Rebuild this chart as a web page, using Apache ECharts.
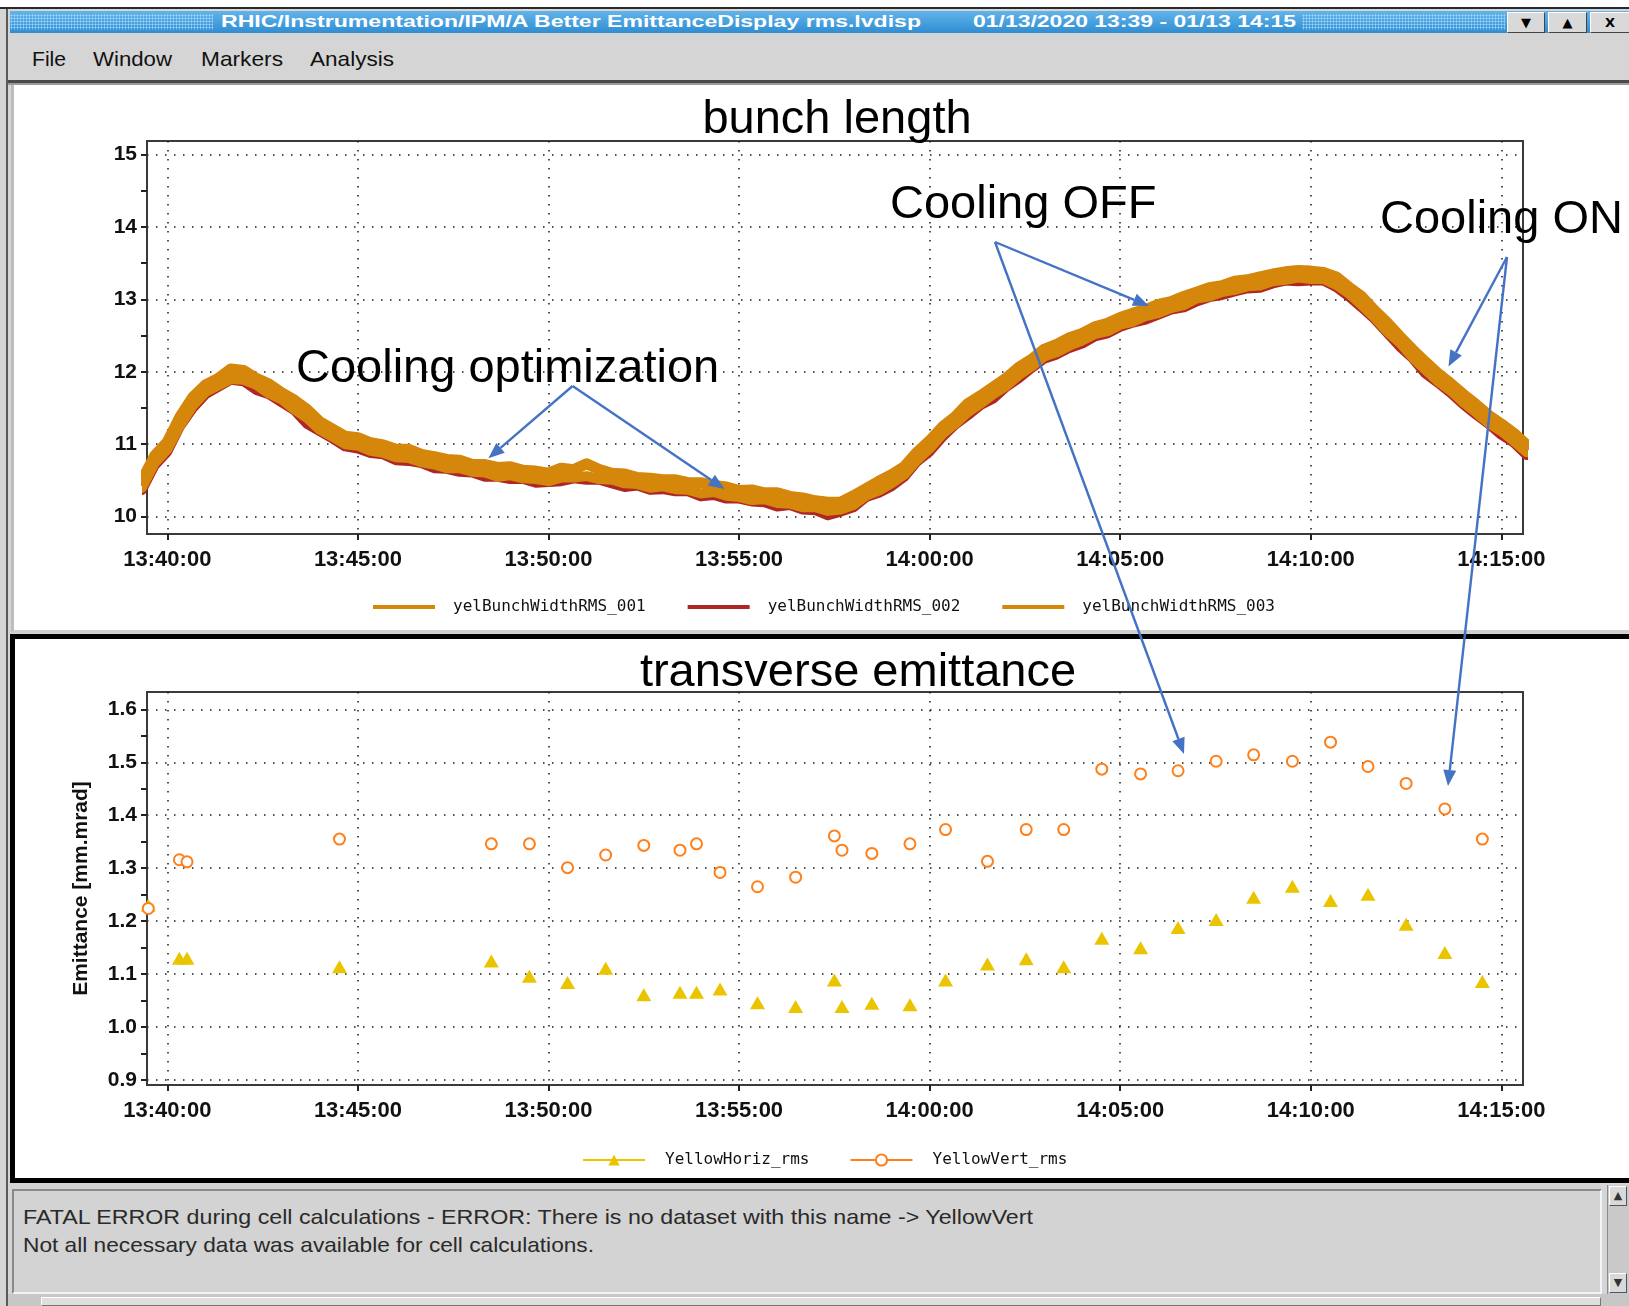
<!doctype html>
<html lang="en">
<head>
<meta charset="UTF-8">
<title>RHIC/Instrumentation/IPM/A Better EmittanceDisplay rms.lvdisp</title>
<script src="https://cdn.jsdelivr.net/npm/echarts@6/dist/echarts.min.js"></script>
<style>
    html, body { margin: 0; padding: 0; width: 1629px; height: 1306px; overflow: hidden; background: #fff;
        font-family: "Liberation Sans", Arial, sans-serif; }
    .abs { position: absolute; }
    #win { left: 0; top: 7px; width: 1629px; height: 1299px; background: #d5d5d5; border-top: 2px solid #2a2a2a; box-sizing: border-box; }
    #leftline { left: 6px; top: 9px; width: 2px; height: 1297px; background: #5a5a5a; }
    #titlebar { left: 10px; top: 11px; width: 1619px; height: 22px; background: linear-gradient(#62b4ea, #2f8dd2); overflow: hidden; }
    .dots { top: 3px; height: 16px; background-image: radial-gradient(#a8d8f7 0.9px, transparent 1.1px); background-size: 3px 3px; }
    .tbtxt { top: 0; height: 22px; line-height: 22px; color: #fff; font-weight: bold; font-size: 17px; white-space: nowrap; transform-origin: 0 50%; }
    .btn { top: 12px; height: 21px; background: #d9d9d9; border: 1px solid; border-color: #fff #444 #444 #fff; box-sizing: border-box;
        text-align: center; font: bold 13px "DejaVu Sans", sans-serif; line-height: 19px; color: #000; }
    .menu { top: 47px; font-size: 21px; line-height: 24px; color: #111; white-space: nowrap; transform-origin: 0 50%; }
    #sep1 { left: 8px; top: 80px; width: 1621px; height: 3px; background: #4a4a4a; }
    #sep2 { left: 8px; top: 83px; width: 1621px; height: 2px; background: #9a9a9a; }
    #toppanel { left: 11px; top: 85px; width: 1618px; height: 548px; background: #fff; border-left: 3px solid #bdbdbd; border-bottom: 3px solid #cfcfcf; box-sizing: border-box; }
    #botpanel { left: 10px; top: 634px; width: 1640px; height: 549px; background: #fff; border: 5px solid #000; box-sizing: border-box; }
    #status { left: 12px; top: 1189px; width: 1590px; height: 105px; background: #d3d3d3; border: 2px solid; border-color: #8a8a8a #f4f4f4 #f4f4f4 #8a8a8a; box-sizing: border-box; }
    .stxt { left: 23px; font-size: 21px; line-height: 24px; color: #2a2a2a; white-space: nowrap; transform-origin: 0 50%; }
    #vscroll { left: 1607px; top: 1185px; width: 22px; height: 109px; background: #c9c9c9; border-left: 1px solid #8a8a8a; box-sizing: border-box; }
    .sarrow { left: 1609px; width: 18px; height: 20px; background: #d9d9d9; border: 1px solid; border-color: #fff #555 #555 #fff; box-sizing: border-box;
        font: 11px "DejaVu Sans", sans-serif; text-align: center; line-height: 18px; color: #333; }
    #hstrip { left: 8px; top: 1294px; width: 1621px; height: 12px; background: #c7c7c7; }
    #hbar { left: 41px; top: 1297px; width: 1560px; height: 9px; background: #dedede; border: 1px solid; border-color: #fff #777 #777 #fff; box-sizing: border-box; }
    #chart { position: absolute; left: 0; top: 0; width: 1629px; height: 1306px; z-index: 5; }
</style>
</head>
<body>

<div id="win" class="abs"></div>
<div id="leftline" class="abs"></div>
<div id="titlebar" class="abs">
    <div class="abs dots" style="left:0;width:203px;"></div>
    <div class="abs tbtxt" id="ttl" style="left:211px;">RHIC/Instrumentation/IPM/A Better EmittanceDisplay rms.lvdisp</div>
    <div class="abs tbtxt" id="ttldate" style="left:963px;">01/13/2020 13:39 - 01/13 14:15</div>
    <div class="abs dots" style="left:1292px;width:203px;"></div>
</div>
<div class="abs btn" style="left:1507px;width:38px;">&#9660;</div>
<div class="abs btn" style="left:1548px;width:39px;">&#9650;</div>
<div class="abs btn" style="left:1590px;width:40px;">X</div>

<div class="abs menu" data-w="34" style="left:32px;">File</div>
<div class="abs menu" data-w="79" style="left:93px;">Window</div>
<div class="abs menu" data-w="82" style="left:201px;">Markers</div>
<div class="abs menu" data-w="84" style="left:310px;">Analysis</div>
<div id="sep1" class="abs"></div>
<div id="sep2" class="abs"></div>

<div id="toppanel" class="abs"></div>
<div id="botpanel" class="abs"></div>

<div id="status" class="abs"></div>
<div class="abs stxt" data-w="1010" style="top:1205px;">FATAL ERROR during cell calculations - ERROR: There is no dataset with this name -&gt; YellowVert</div>
<div class="abs stxt" data-w="571" style="top:1233px;">Not all necessary data was available for cell calculations.</div>
<div id="vscroll" class="abs"></div>
<div class="abs sarrow" style="top:1186px;">&#9650;</div>
<div class="abs sarrow" style="top:1273px;">&#9660;</div>
<div id="hstrip" class="abs"></div>
<div id="hbar" class="abs"></div>

<div id="chart"></div>

<script>
    // bunch length: one sample every 20 s from 13:39:20
    var bunchStart = '13:39:20';
    var bunchStepSec = 20;
    var bunch001 = [10.50, 10.84, 11.03, 11.38, 11.65, 11.82, 11.91, 12.04, 12.02, 11.91,
        11.83, 11.71, 11.61, 11.48, 11.31, 11.21, 11.11, 11.09, 11.02, 10.99,
        10.93, 10.93, 10.86, 10.83, 10.79, 10.78, 10.72, 10.72, 10.68, 10.69,
        10.64, 10.63, 10.60, 10.67, 10.65, 10.73, 10.65, 10.60, 10.59, 10.54,
        10.53, 10.51, 10.51, 10.47, 10.47, 10.43, 10.41, 10.36, 10.37, 10.33,
        10.33, 10.28, 10.26, 10.22, 10.20, 10.20, 10.29, 10.39, 10.49, 10.58,
        10.69, 10.89, 11.05, 11.24, 11.38, 11.56, 11.67, 11.79, 11.91, 12.06,
        12.17, 12.31, 12.38, 12.47, 12.53, 12.62, 12.67, 12.75, 12.81, 12.86,
        12.93, 12.97, 13.04, 13.10, 13.16, 13.19, 13.25, 13.27, 13.31, 13.35,
        13.38, 13.40, 13.39, 13.37, 13.31, 13.17, 13.04, 12.85, 12.68, 12.49,
        12.31, 12.14, 11.98, 11.84, 11.69, 11.55, 11.40, 11.28, 11.15, 10.99];
    var bunch002 = [10.37, 10.71, 10.90, 11.25, 11.50, 11.69, 11.79, 11.89, 11.87, 11.75,
        11.69, 11.58, 11.47, 11.28, 11.18, 11.08, 10.97, 10.94, 10.88, 10.86,
        10.78, 10.77, 10.74, 10.67, 10.66, 10.62, 10.61, 10.55, 10.55, 10.52,
        10.52, 10.47, 10.48, 10.49, 10.53, 10.51, 10.51, 10.46, 10.41, 10.43,
        10.37, 10.38, 10.35, 10.35, 10.28, 10.30, 10.25, 10.25, 10.21, 10.20,
        10.14, 10.16, 10.10, 10.09, 10.02, 10.07, 10.13, 10.27, 10.33, 10.42,
        10.55, 10.76, 10.90, 11.10, 11.27, 11.40, 11.54, 11.63, 11.79, 11.91,
        12.05, 12.18, 12.24, 12.33, 12.39, 12.49, 12.53, 12.62, 12.68, 12.72,
        12.79, 12.86, 12.89, 12.97, 13.03, 13.06, 13.11, 13.15, 13.16, 13.22,
        13.26, 13.25, 13.26, 13.26, 13.17, 13.04, 12.89, 12.73, 12.54, 12.35,
        12.19, 11.98, 11.85, 11.71, 11.55, 11.41, 11.28, 11.13, 11.02, 10.85];
    var bunch003 = [10.40, 10.74, 10.93, 11.26, 11.53, 11.72, 11.81, 11.90, 11.89, 11.82,
        11.70, 11.62, 11.48, 11.36, 11.20, 11.10, 11.00, 10.98, 10.91, 10.88,
        10.82, 10.81, 10.75, 10.72, 10.67, 10.67, 10.62, 10.61, 10.55, 10.57,
        10.53, 10.52, 10.49, 10.54, 10.54, 10.56, 10.52, 10.51, 10.46, 10.45,
        10.40, 10.42, 10.38, 10.37, 10.32, 10.34, 10.29, 10.27, 10.23, 10.24,
        10.19, 10.18, 10.13, 10.13, 10.08, 10.10, 10.16, 10.29, 10.36, 10.46,
        10.58, 10.78, 10.94, 11.14, 11.28, 11.44, 11.56, 11.69, 11.80, 11.95,
        12.07, 12.21, 12.27, 12.36, 12.43, 12.52, 12.56, 12.65, 12.69, 12.77,
        12.81, 12.88, 12.92, 13.01, 13.04, 13.10, 13.13, 13.18, 13.19, 13.25,
        13.27, 13.30, 13.28, 13.28, 13.20, 13.08, 12.92, 12.75, 12.56, 12.40,
        12.20, 12.03, 11.87, 11.74, 11.58, 11.44, 11.29, 11.18, 11.04, 10.89];

    // transverse emittance
    var emitTimes = ['13:39:30', '13:40:19', '13:40:31', '13:44:31', '13:48:30', '13:49:30', '13:50:30', '13:51:30',
        '13:52:30', '13:53:27', '13:53:53', '13:54:30', '13:55:29', '13:56:29', '13:57:30', '13:57:42', '13:58:29',
        '13:59:29', '14:00:25', '14:01:31', '14:02:32', '14:03:31', '14:04:31', '14:05:32', '14:06:31', '14:07:31',
        '14:08:30', '14:09:31', '14:10:31', '14:11:30', '14:12:30', '14:13:31', '14:14:30'];
    var horizRms = [1.230, 1.130, 1.130, 1.114, 1.125, 1.096, 1.084, 1.111, 1.061, 1.066, 1.066, 1.072, 1.046,
        1.039, 1.089, 1.039, 1.045, 1.042, 1.089, 1.119, 1.129, 1.114, 1.168, 1.150, 1.188, 1.203, 1.245,
        1.266, 1.239, 1.251, 1.194, 1.141, 1.086];
    var vertRms = [1.224, 1.316, 1.312, 1.355, 1.346, 1.346, 1.301, 1.325, 1.343, 1.334, 1.346, 1.292, 1.265,
        1.283, 1.361, 1.334, 1.328, 1.346, 1.373, 1.313, 1.373, 1.373, 1.487, 1.478, 1.484, 1.502, 1.514,
        1.502, 1.538, 1.492, 1.460, 1.412, 1.355];

    // axes
    var timeMin = '13:39:28';
    var timeMax = '14:15:34';
    var timeTicks = ['13:40:00', '13:45:00', '13:50:00', '13:55:00', '14:00:00', '14:05:00', '14:10:00', '14:15:00'];
    var bunchYTicks = [10, 11, 12, 13, 14, 15];
    var bunchYHalf = [10.5, 11.5, 12.5, 13.5, 14.5];
    var emitYTicks = [0.9, 1.0, 1.1, 1.2, 1.3, 1.4, 1.5, 1.6];
    var emitYHalf = [0.95, 1.05, 1.15, 1.25, 1.35, 1.45, 1.55];

    // squeeze/stretch the window chrome texts to the widths of the screenshot
    function fitText(el, w) {
        var r = el.getBoundingClientRect().width;
        if (r > 0) el.style.transform = 'scaleX(' + (w / r) + ')';
    }
    fitText(document.getElementById('ttl'), 700);
    fitText(document.getElementById('ttldate'), 323);
    var fits = document.querySelectorAll('[data-w]');
    for (var k = 0; k < fits.length; k++) fitText(fits[k], +fits[k].getAttribute('data-w'));

    // times are kept as seconds of the day, the x axes are plain value axes
    function ts(s) {
        var p = s.split(':');
        return (+p[0]) * 3600 + (+p[1]) * 60 + (+p[2]);
    }
    function pad(n) { return (n < 10 ? '0' : '') + n; }
    function hms(v) {
        v = Math.round(v);
        return pad(Math.floor(v / 3600)) + ':' + pad(Math.floor(v / 60) % 60) + ':' + pad(v % 60);
    }
    var t0 = ts(bunchStart);
    function bunchPairs(vals) {
        return vals.map(function (v, i) { return [t0 + i * bunchStepSec, v]; });
    }
    function emitPairs(vals) {
        return vals.map(function (v, i) { return [ts(emitTimes[i]), v]; });
    }
    var tickTimes = timeTicks.map(ts);

    var axisColor = '#3a3a3a';
    var gridDots = { color: '#1a1a1a', width: 1.5, type: [1.5, 7.5] };

    function timeAxis(gridIndex) {
        return {
            type: 'value', gridIndex: gridIndex, position: 'bottom', min: ts(timeMin), max: ts(timeMax),
            axisLine: { show: true, onZero: false, lineStyle: { color: axisColor, width: 2 } },
            axisTick: { show: true, customValues: tickTimes, length: 6, lineStyle: { color: '#222', width: 2 } },
            axisLabel: { customValues: tickTimes, formatter: hms, fontSize: 22, fontWeight: 'bold', color: '#111', margin: 15 },
            splitLine: { show: true, lineStyle: gridDots }
        };
    }
    function valueAxis(gridIndex, min, max, ticks, digits) {
        return {
            type: 'value', gridIndex: gridIndex, position: 'left', min: min, max: max,
            axisLine: { show: true, onZero: false, lineStyle: { color: axisColor, width: 2 } },
            axisTick: { show: true, customValues: ticks, length: 6, lineStyle: { color: '#222', width: 2 } },
            axisLabel: { customValues: ticks, fontSize: 21, fontWeight: 'bold', color: '#111', margin: 10,
                formatter: function (v) { return v.toFixed(digits); } },
            splitLine: { show: true, lineStyle: gridDots }
        };
    }
    function halfTickAxis(gridIndex, min, max, ticks) {
        return {
            type: 'value', gridIndex: gridIndex, position: 'left', min: min, max: max,
            axisLine: { show: false, onZero: false },
            axisTick: { show: true, customValues: ticks, length: 6, lineStyle: { color: '#222', width: 2 } },
            axisLabel: { show: false },
            splitLine: { show: false }
        };
    }

    var emitAxis = valueAxis(1, 0.8907, 1.6327, emitYTicks, 1);
    emitAxis.name = 'Emittance [mm.mrad]';
    emitAxis.nameLocation = 'middle';
    emitAxis.nameRotate = 90;
    emitAxis.nameGap = 55;
    emitAxis.nameTextStyle = { fontSize: 21, fontWeight: 'bold', color: '#111' };

    var orange = '#D4870A';
    var darkRed = '#AE2626';
    var yellow = '#EBC400';
    var vertOrange = '#FF7F1A';

    function bunchSeries(name, data, color, width) {
        return {
            name: name, type: 'line', xAxisIndex: 0, yAxisIndex: 0, data: bunchPairs(data),
            symbol: 'none', color: color,
            lineStyle: { color: color, width: width, join: 'round', cap: 'round' }
        };
    }

    // annotation arrows
    var arrowColor = '#4472C4';
    function arrow(x1, y1, x2, y2) {
        var dx = x2 - x1, dy = y2 - y1, len = Math.sqrt(dx * dx + dy * dy);
        var ux = dx / len, uy = dy / len, hl = 16, hw = 6.5;
        var bx = x2 - ux * hl, by = y2 - uy * hl;
        return [
            { type: 'polyline', z: 100, shape: { points: [[x1, y1], [bx, by]] },
                style: { stroke: arrowColor, lineWidth: 2.4, fill: null } },
            { type: 'polygon', z: 100, shape: { points: [[x2, y2], [bx - uy * hw, by + ux * hw], [bx + uy * hw, by - ux * hw]] },
                style: { fill: arrowColor } }
        ];
    }
    function note(text, x, y) {
        return { type: 'text', z: 100, x: x, y: y,
            style: { text: text, font: '47px "Liberation Sans", Arial, sans-serif', fill: '#000', align: 'left', verticalAlign: 'middle' } };
    }
    var graphics = [note('Cooling optimization', 296, 369), note('Cooling OFF', 890, 205), note('Cooling ON', 1380, 220)]
        .concat(arrow(572.6, 386, 488.4, 458.3))
        .concat(arrow(572.6, 386, 724.5, 489))
        .concat(arrow(995, 242, 1149, 306))
        .concat(arrow(995, 242, 1184, 754))
        .concat(arrow(1507, 257, 1448.5, 366.5))
        .concat(arrow(1507, 257, 1448, 786));

    var myChart = echarts.init(document.getElementById('chart'), null, { renderer: 'canvas' });
    var option = {
        animation: false,
        textStyle: { fontFamily: '"Liberation Sans", Arial, sans-serif' },
        title: [
            { text: 'bunch length', left: 832, top: 92, textAlign: 'center',
                textStyle: { fontSize: 47, fontWeight: 'normal', color: '#000' } },
            { text: 'transverse emittance', left: 853, top: 645, textAlign: 'center',
                textStyle: { fontSize: 47, fontWeight: 'normal', color: '#000' } }
        ],
        grid: [
            { left: 147, top: 141, width: 1376, height: 393, show: true, borderColor: axisColor, borderWidth: 2, outerBoundsMode: 'none' },
            { left: 147, top: 692, width: 1376, height: 393, show: true, borderColor: axisColor, borderWidth: 2, outerBoundsMode: 'none' }
        ],
        legend: [
            { data: ['yelBunchWidthRMS_001', 'yelBunchWidthRMS_002', 'yelBunchWidthRMS_003'],
                left: 368, top: 594, icon: 'rect', itemWidth: 62, itemHeight: 4, itemGap: 42,
                textStyle: { fontFamily: '"DejaVu Sans Mono", monospace', fontSize: 16, color: '#111', padding: [0, 0, 0, 13] } },
            { data: ['YellowHoriz_rms', 'YellowVert_rms'],
                left: 577, top: 1147, itemWidth: 62, itemHeight: 14, itemGap: 40,
                lineStyle: { width: 2, opacity: 1 },
                textStyle: { fontFamily: '"DejaVu Sans Mono", monospace', fontSize: 16, color: '#111', padding: [0, 0, 0, 15] } }
        ],
        xAxis: [timeAxis(0), timeAxis(1)],
        yAxis: [
            valueAxis(0, 9.761, 15.186, bunchYTicks, 0),
            halfTickAxis(0, 9.761, 15.186, bunchYHalf),
            emitAxis,
            halfTickAxis(1, 0.8907, 1.6327, emitYHalf)
        ],
        series: [
            bunchSeries('yelBunchWidthRMS_002', bunch002, darkRed, 10),
            bunchSeries('yelBunchWidthRMS_001', bunch001, orange, 11),
            bunchSeries('yelBunchWidthRMS_003', bunch003, orange, 10),
            {
                name: 'YellowHoriz_rms', type: 'line', xAxisIndex: 1, yAxisIndex: 2, data: emitPairs(horizRms),
                color: yellow, symbol: 'triangle', symbolSize: [15, 13],
                itemStyle: { color: yellow }, lineStyle: { color: yellow, width: 2, opacity: 0 }
            },
            {
                name: 'YellowVert_rms', type: 'line', xAxisIndex: 1, yAxisIndex: 2, data: emitPairs(vertRms),
                color: vertOrange, symbol: 'emptyCircle', symbolSize: 11,
                itemStyle: { color: vertOrange, borderColor: vertOrange, borderWidth: 2.5 },
                lineStyle: { color: vertOrange, width: 2, opacity: 0 }
            }
        ],
        graphic: graphics
    };
    myChart.setOption(option);
</script>

</body>
</html>
